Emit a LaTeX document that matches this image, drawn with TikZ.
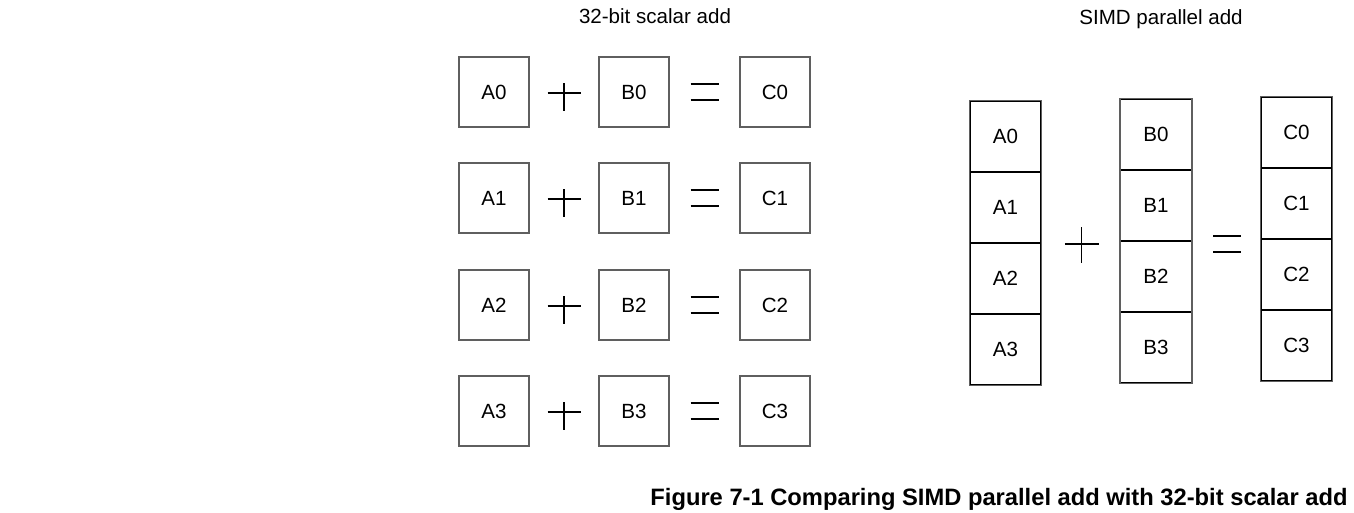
\documentclass[tikz,border=0pt]{standalone}
\usepackage{fontspec}
\setmainfont{Liberation Sans}
\usetikzlibrary{positioning}
\definecolor{boxgray}{RGB}{95,95,95}

\begin{document}
\begin{tikzpicture}[x=0.02cm,y=-0.02cm,font=\fontsize{11.7}{14}\selectfont,
  cell/.style={draw=boxgray,line width=1pt,minimum width=1.4cm,minimum height=1.4cm,inner sep=0pt},
  slot/.style={draw=black,line width=0.6pt,minimum width=1.42cm,minimum height=1.42cm,inner sep=0pt},
  sign/.style={line width=0.8pt}
]
  \useasboundingbox (0,0) rectangle (1354,513);

  % scalar add, one row per element
  \node at (655,16) (scalartitle) {32-bit scalar add};
  \foreach \i/\y in {0/92,1/198,2/305,3/411} {
    \node[cell] at (494,\y) (a\i) {A\i};
    \node[cell] at (634,\y) (b\i) {B\i};
    \node[cell] at (775,\y) (c\i) {C\i};
    \path (a\i.east) -- (b\i.west) coordinate[midway] (plus\i);
    \path (b\i.east) -- (c\i.west) coordinate[midway] (eq\i);
    \draw[sign] ([xshift=-0.33cm,yshift=-0.02cm]plus\i) -- ([xshift=0.33cm,yshift=-0.02cm]plus\i);
    \draw[sign] ([yshift=0.18cm]plus\i) -- ([yshift=-0.38cm]plus\i);
    \draw[sign] ([xshift=-0.28cm,yshift=0.16cm]eq\i) -- ([xshift=0.28cm,yshift=0.16cm]eq\i);
    \draw[sign] ([xshift=-0.28cm,yshift=-0.16cm]eq\i) -- ([xshift=0.28cm,yshift=-0.16cm]eq\i);
  }

  % SIMD add, all elements in one register
  \node at (1161,19) (simdtitle) {SIMD parallel add};
  \foreach \i in {0,...,3} {
    \node[slot] at (1005.5,136.5+71*\i) (ra\i) {A\i};
    \node[slot] at (1156,134.5+71*\i) (rb\i) {B\i};
    \node[slot] at (1296.5,132.5+71*\i) (rc\i) {C\i};
  }
  \draw[draw=boxgray,line width=1pt] (ra0.north west) rectangle (ra3.south east);
  \draw[draw=boxgray,line width=1pt] (rb0.north west) rectangle (rb3.south east);
  \draw[draw=boxgray,line width=1pt] (rc0.north west) rectangle (rc3.south east);
  \path (ra1.south east) -- (rb2.north west) coordinate[midway] (rplus);
  \path (rb1.south east) -- (rc2.north west) coordinate[midway] (req);
  \draw[sign] ([xshift=-0.32cm,yshift=-0.04cm]rplus) -- ([xshift=0.36cm,yshift=-0.04cm]rplus);
  \draw[sign] ([xshift=0.02cm,yshift=0.30cm]rplus) -- ([xshift=0.02cm,yshift=-0.42cm]rplus);
  \draw[sign] ([xshift=-0.26cm,yshift=0.08cm]req) -- ([xshift=0.30cm,yshift=0.08cm]req);
  \draw[sign] ([xshift=-0.26cm,yshift=-0.24cm]req) -- ([xshift=0.30cm,yshift=-0.24cm]req);

  \node[anchor=east,inner sep=0pt,font=\fontsize{13.5}{16}\selectfont\bfseries] at (1348,499) (caption) {Figure 7-1 Comparing SIMD parallel add with 32-bit scalar add};
\end{tikzpicture}
\end{document}
